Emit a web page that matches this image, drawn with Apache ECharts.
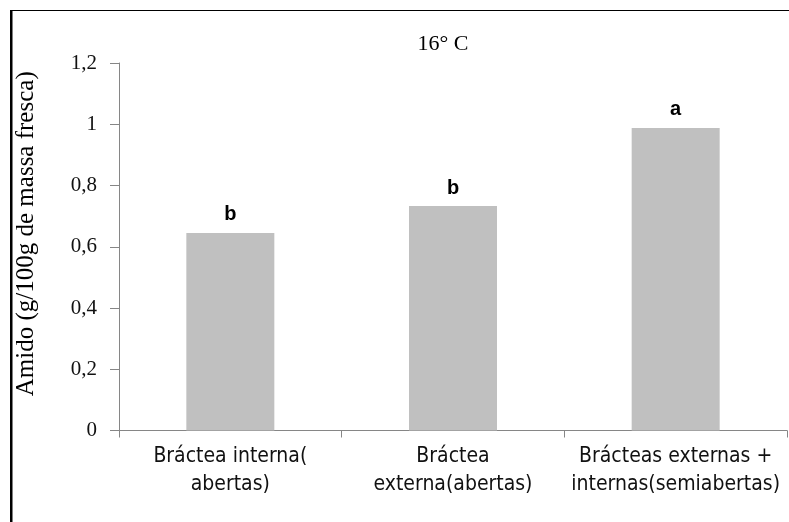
<!DOCTYPE html>
<html>
<head>
<meta charset="utf-8">
<script src="https://cdn.jsdelivr.net/npm/echarts@6/dist/echarts.min.js"></script>
<style>html,body{margin:0;padding:0;background:#fff}#c{width:789px;height:522px}</style>
</head>
<body>
<div id="c"></div>
<script>
var categories = ['Bráctea interna(\nabertas)', 'Bráctea\nexterna(abertas)', 'Brácteas externas +\ninternas(semiabertas)'];
var values = [0.645, 0.733, 0.988];
var letters = ['b', 'b', 'a'];
var titleText = '16° C';
var yName = 'Amido (g/100g de massa fresca)';

var chart = echarts.init(document.getElementById('c'));
chart.setOption({
  animation: false,
  backgroundColor: '#fff',
  title: {
    text: titleText,
    left: 438, top: 28, textAlign: 'center',
    textStyle: {fontFamily: 'Liberation Serif', fontSize: 22, fontWeight: 'normal', color: '#000'}
  },
  graphic: [
    {type: 'rect', shape: {x: 10, y: 10, width: 2.5, height: 512}, style: {fill: '#000'}},
    {type: 'rect', shape: {x: 10, y: 10, width: 779, height: 1}, style: {fill: '#000'}}
  ],
  grid: {left: 119, right: 2, top: 63, bottom: 91.5, containLabel: false},
  xAxis: {
    type: 'category',
    data: categories,
    boundaryGap: true,
    axisLine: {lineStyle: {color: '#868686', width: 1}},
    axisTick: {show: true, interval: 0, length: 7, lineStyle: {color: '#868686'}},
    axisLabel: {
      interval: 0, hideOverlap: false,
      margin: 12, lineHeight: 28, color: '#111',
      fontFamily: 'Liberation Sans Narrow, DejaVu Sans Condensed, sans-serif', fontSize: 21
    }
  },
  yAxis: {
    type: 'value',
    min: 0, max: 1.2, interval: 0.2,
    name: yName,
    nameLocation: 'middle',
    nameGap: 80,
    nameTextStyle: {fontFamily: 'Liberation Serif', fontSize: 25, color: '#000', padding: [0, 0, 0, 26]},
    axisLine: {show: true, lineStyle: {color: '#868686', width: 1}},
    axisTick: {show: true, length: 9, lineStyle: {color: '#868686'}},
    splitLine: {show: false},
    axisLabel: {
      margin: 22, color: '#111',
      fontFamily: 'Liberation Serif', fontSize: 21,
      formatter: function (v) { return String(Math.round(v * 10) / 10).replace('.', ','); }
    }
  },
  series: [{
    type: 'bar',
    data: values,
    barWidth: 88,
    itemStyle: {color: '#c0c0c0'},
    label: {
      show: true, position: 'top', distance: 8,
      formatter: function (p) { return letters[p.dataIndex]; },
      fontFamily: 'Liberation Sans', fontWeight: 'bold', fontSize: 20, color: '#000'
    }
  }]
});
</script>
</body>
</html>
